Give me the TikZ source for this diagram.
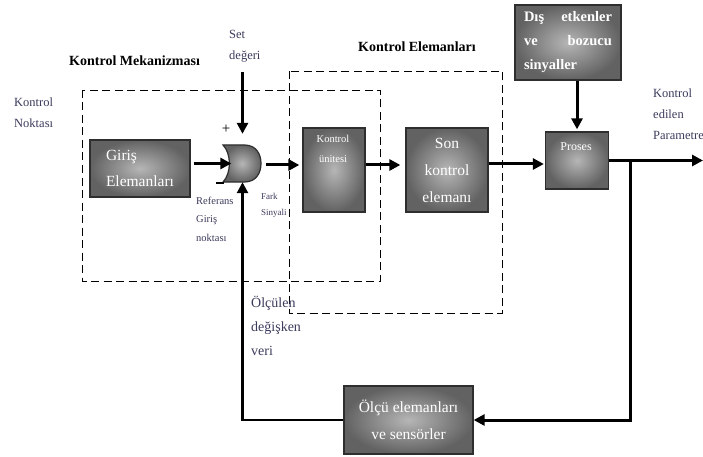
\documentclass[tikz,border=0pt]{standalone}
\usepackage{fontspec}
\setmainfont{Liberation Serif}
\usetikzlibrary{arrows.meta,calc}
\definecolor{labelink}{HTML}{3B3B5C}
\definecolor{boxedge}{HTML}{2E2E2E}
\definecolor{boxlight}{HTML}{B6B6B6}
\definecolor{boxdark}{HTML}{626262}
\begin{document}
\begin{tikzpicture}[x=1pt,y=-1pt,
  blockbox/.style={draw=boxedge,line width=1.3pt,inner color=boxlight,outer color=boxdark,
                   text=white,inner sep=0pt,align=center},
  boxtext/.style={text=white,inner sep=0pt,align=center,anchor=base},
  flow/.style={line width=3pt,-{Triangle[length=11pt,width=11pt]}},
  frame/.style={line width=0.9pt,dash pattern=on 8pt off 4.5pt},
  lbl/.style={anchor=base west,inner sep=0pt,align=left,text=labelink},
  heading/.style={anchor=base west,inner sep=0pt,font=\bfseries\fontsize{14}{17}\selectfont}]

\fill[white] (0,0) rectangle (703,457);
\useasboundingbox (0,0) rectangle (703,457);

% dashed group frames
\draw[frame] (82,90) rectangle (380,281);
\draw[frame] (289,71) rectangle (502,313);

% headings and free labels (multi-line labels are placed by their last baseline)
\node[heading] (mekanizma) at (69,66) {Kontrol Mekanizması};
\node[heading] (elemanlar) at (358,52) {Kontrol Elemanları};
\node[lbl,font=\fontsize{12.5}{21}\selectfont] (nokta) at (14,128) {Kontrol\\Noktası};
\node[lbl,font=\fontsize{12.5}{21}\selectfont] (setlbl) at (229,60) {Set\\değeri};
\node[lbl,font=\fontsize{10.5}{18.5}\selectfont] (reflbl) at (196,241) {Referans\\Giriş\\noktası};
\node[lbl,font=\fontsize{9}{16.5}\selectfont] (farklbl) at (261,215.5) {Fark\\Sinyali};
\node[lbl,font=\fontsize{12.5}{21}\selectfont] (paramlbl) at (653,140) {Kontrol\\edilen\\Parametre};
\node[lbl,font=\fontsize{14}{24}\selectfont] (olculbl) at (251,355) {Ölçülen\\değişken\\veri};

% blocks
\node[blockbox,minimum width=100pt,minimum height=57pt,align=left,
      font=\fontsize{15.5}{26}\selectfont] (gir) at (140,168.5) {Giriş\\Elemanları};
\node[blockbox,minimum width=62pt,minimum height=84pt] (ku) at (334,170) {};
\node[boxtext,font=\fontsize{10.5}{19}\selectfont] (kutext) at (333,162) {Kontrol\\ünitesi};
\node[blockbox,minimum width=82pt,minimum height=84pt,
      font=\fontsize{15.5}{27}\selectfont] (son) at (447,170) {Son\\kontrol\\elemanı};
\node[blockbox,minimum width=63pt,minimum height=57pt] (pro) at (577,160.5) {};
\node[boxtext,font=\fontsize{12}{14}\selectfont] (protext) at (576,150) {Proses};
\node[blockbox,minimum width=106pt,minimum height=75pt,align=left,
      font=\bfseries\fontsize{14.5}{24}\selectfont] (dis) at (568,42.5)
      {\makebox[88pt][l]{Dış\hfill etkenler}\\\makebox[88pt][l]{ve\hfill bozucu}\\\makebox[88pt][l]{sinyaller}};
\node[blockbox,minimum width=129pt,minimum height=68pt,
      font=\fontsize{15.5}{27}\selectfont] (olc) at (408.5,420) {Ölçü elemanları\\ve sensörler};

% comparator
\node[minimum width=38pt,minimum height=37pt,inner sep=0pt] (cmp) at (242.5,163.5) {};
\begin{scope}[shift={(cmp.center)}]
  \draw[draw=boxedge,line width=1.2pt,inner color=boxlight,outer color=boxdark]
    (-19.5,-18.5) -- (2,-18.5) .. controls (14,-18.5) and (18.5,-9) .. (18.5,0)
    .. controls (18.5,9) and (14,18.5) .. (2,18.5) -- (-19.5,18.5)
    .. controls (-11,10) and (-11,-10) .. (-19.5,-18.5) -- cycle;
\end{scope}
\node[inner sep=0pt,font=\fontsize{15}{15}\selectfont] (plus) at (226,129) {+};
\draw[line width=2.6pt] (216,183) -- (224,183);

% signal flow
\coordinate (setin) at (242.5,72);
\coordinate (out) at (703,160.5);
\coordinate (tap) at (630,160.5);
\draw[flow] (setin) -- ($(cmp.north)+(0,-11)$);
\draw[flow,shorten <=3pt] (gir.east |- cmp.west) -- ($(cmp.west)+(8,0)$);
\draw[flow,shorten <=4pt,shorten >=3pt] ($(cmp.east)+(0,1.5)$) -- ($(ku.west)+(0,-5)$);
\draw[flow,shorten >=5pt] ($(ku.east)+(0,-5)$) -- ($(son.west)+(0,-5)$);
\draw[flow,shorten >=1pt] ($(son.east)+(0,-6)$) -- ($(pro.west)+(0,3.5)$);
\draw[flow,shorten >=2pt] (dis.south -| pro.north) -- (pro.north);
\draw[flow] (pro.east) -- (out);
\draw[flow] (tap) |- (olc.east);
\draw[flow,line width=2.6pt] (olc.west) -| (cmp.south);
\end{tikzpicture}
\end{document}
